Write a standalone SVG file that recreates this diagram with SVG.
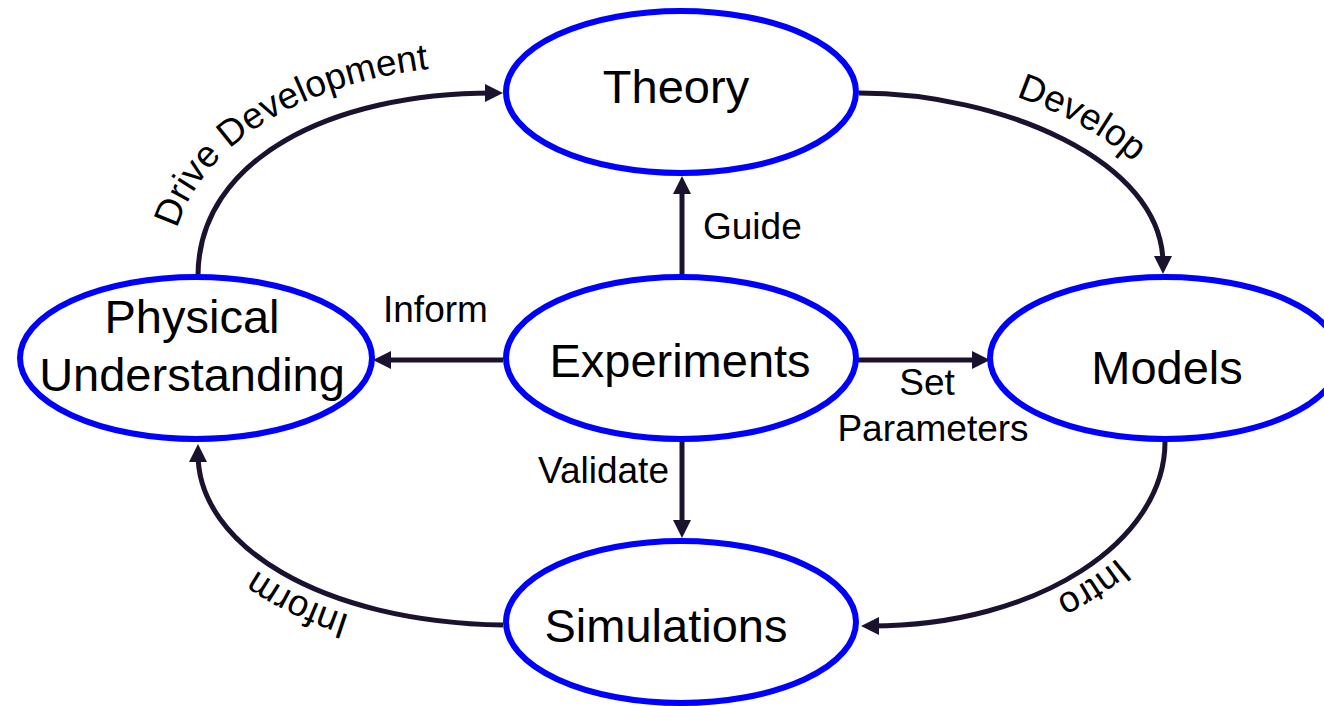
<svg xmlns="http://www.w3.org/2000/svg" width="1324" height="706" viewBox="0 0 1324 706">
<style>
.node{fill:#fff;stroke:#0000ff;stroke-width:6}
.nt{font-family:"Liberation Sans",Arial,sans-serif;font-size:47px;fill:#000;text-anchor:middle}
.lbl{font-family:"Liberation Sans",Arial,sans-serif;font-size:37px;fill:#000}
.con{fill:none;stroke:#1b1230;stroke-width:5}
</style>
<defs>
<marker id="ah" markerUnits="userSpaceOnUse" markerWidth="18" markerHeight="18" viewBox="0 0 18 18" refX="8" refY="9" orient="auto">
<path d="M0,0 L18,9 L0,18 z" fill="#1b1230"/>
</marker>
<path id="tpDrive" d="M170,276 C170,145 320,65 495,65"/>
<path id="tpDevelop" d="M859,69 C1005,69 1185,150 1187,262"/>
<path id="tpIntro" d="M1179,442 C1179,545 1045,636 870,640"/>
<path id="tpInform" d="M503,639 C315,636 184,550 184,452"/>
</defs>
<g id="connectors">
<path class="con" d="M198,276 C198,160 330,93 493,93" marker-end="url(#ah)"/>
<path class="con" d="M859,93 C1000,93 1163,160 1163,264" marker-end="url(#ah)"/>
<path class="con" d="M1165,442 C1165,540 1040,626 871,626" marker-end="url(#ah)"/>
<path class="con" d="M503,625 C320,622 198,545 198,454" marker-end="url(#ah)"/>
<path class="con" d="M682,278 L682,186" marker-end="url(#ah)"/>
<path class="con" d="M503,360 L383,360" marker-end="url(#ah)"/>
<path class="con" d="M858,360 L980,360" marker-end="url(#ah)"/>
<path class="con" d="M682,442 L682,528" marker-end="url(#ah)"/>
<text class="lbl"><textPath href="#tpDrive" startOffset="48">Drive Development</textPath></text>
<text class="lbl"><textPath href="#tpDevelop" startOffset="160">Develop</textPath></text>
<text class="lbl"><textPath href="#tpIntro" startOffset="135">Intro</textPath></text>
<text class="lbl"><textPath href="#tpInform" startOffset="155">Inform</textPath></text>
<text class="lbl" x="703" y="239">Guide</text>
<text class="lbl" x="383" y="322">Inform</text>
<text class="lbl" x="927" y="395" text-anchor="middle">Set</text>
<text class="lbl" x="933" y="441" text-anchor="middle">Parameters</text>
<text class="lbl" x="538" y="483">Validate</text>
</g>
<g id="theory">
<ellipse class="node" cx="681" cy="92" rx="175" ry="81"/>
<text class="nt" x="676" y="103">Theory</text>
</g>
<g id="experiments">
<ellipse class="node" cx="681" cy="358" rx="175" ry="81"/>
<text class="nt" x="680" y="377">Experiments</text>
</g>
<g id="physical-understanding">
<ellipse class="node" cx="196" cy="358" rx="176" ry="81"/>
<text class="nt" x="192" y="333">Physical</text>
<text class="nt" x="192" y="391">Understanding</text>
</g>
<g id="models">
<ellipse class="node" cx="1165" cy="358" rx="175" ry="81"/>
<text class="nt" x="1167" y="384">Models</text>
</g>
<g id="simulations">
<ellipse class="node" cx="681" cy="622" rx="175" ry="81"/>
<text class="nt" x="666" y="642">Simulations</text>
</g>
</svg>
